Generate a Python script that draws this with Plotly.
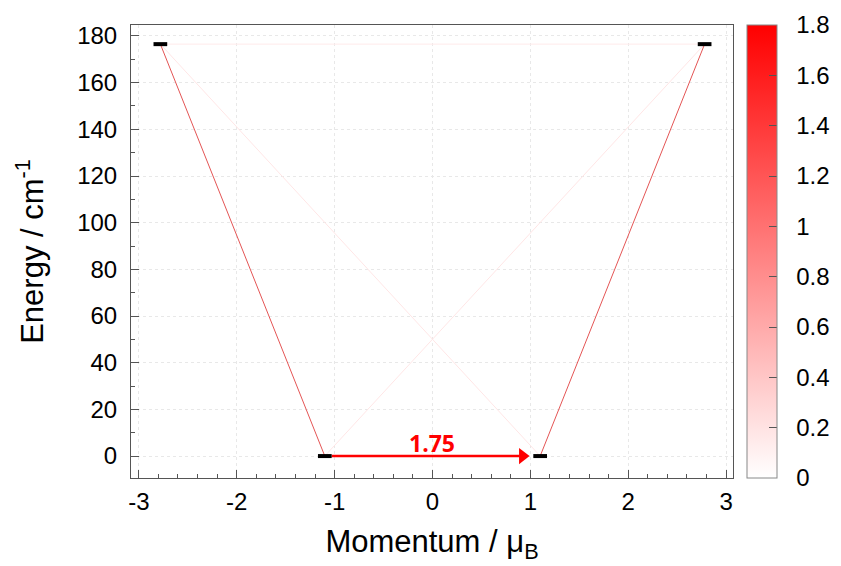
import plotly.graph_objects as go

# Data
level_x = [-2.78, -1.10, 1.10, 2.78]
level_y = [176.5, 0.0, 0.0, 176.5]
trans_from = [0, 2, 0, 1, 0, 1]
trans_to = [1, 3, 2, 3, 3, 2]
trans_strength = [0.85, 0.85, 0.18, 0.18, 0.15, 1.75]
x_ticks = [-3, -2, -1, 0, 1, 2, 3]
y_ticks = [0, 20, 40, 60, 80, 100, 120, 140, 160, 180]
cbar_ticks = [0, 0.2, 0.4, 0.6, 0.8, 1, 1.2, 1.4, 1.6, 1.8]
cmax = 1.8
bar_half = 0.07

def red_shade(s):
    f = max(0.0, min(1.0, s / cmax))
    g = int(round(255 * (1 - f)))
    return f"rgb(255,{g},{g})"

fig = go.Figure()

arrow_idx = trans_strength.index(max(trans_strength))
for k, (a, b, s) in enumerate(zip(trans_from, trans_to, trans_strength)):
    if k == arrow_idx:
        continue
    col = red_shade(s)
    if s > 0.5:
        col = "rgb(228,85,85)"
    fig.add_trace(go.Scatter(x=[level_x[a], level_x[b]], y=[level_y[a], level_y[b]],
                             mode="lines", line=dict(color=col, width=1),
                             hoverinfo="skip", showlegend=False))

# arrow for strongest transition
a, b = trans_from[arrow_idx], trans_to[arrow_idx]
x0 = level_x[a] + bar_half
x1 = level_x[b] - bar_half - 0.06
fig.add_trace(go.Scatter(x=[x0, x1 - 0.08], y=[level_y[a], level_y[b]], mode="lines",
                         line=dict(color="red", width=2.5), showlegend=False, hoverinfo="skip"))
fig.add_trace(go.Scatter(x=[x1 - 0.05], y=[level_y[b]], mode="markers",
                         marker=dict(symbol="triangle-right", size=14, color="red", line=dict(width=0)),
                         showlegend=False, hoverinfo="skip"))

for x, y in zip(level_x, level_y):
    fig.add_trace(go.Scatter(x=[x - bar_half, x + bar_half], y=[y, y], mode="lines",
                             line=dict(color="black", width=4), showlegend=False,
                             hoverinfo="skip"))

# colorbar
fig.add_trace(go.Scatter(x=[None], y=[None], mode="markers",
                         marker=dict(color=[0], cmin=0, cmax=cmax,
                                     colorscale=[[0, "white"], [1, "red"]],
                                     showscale=True,
                                     colorbar=dict(x=1.023, xanchor="left", y=0.5, yanchor="middle",
                                                   len=1, lenmode="fraction", thickness=30,
                                                   outlinecolor="#888", outlinewidth=1,
                                                   tickvals=cbar_ticks,
                                                   ticktext=["\u00a0\u00a0" + str(t) for t in cbar_ticks],
                                                   ticks="inside", ticklen=8,
                                                   tickcolor="#555",
                                                   tickfont=dict(family="Liberation Sans", size=24, color="black"),
                                                   xpad=0, ypad=0)),
                         showlegend=False, hoverinfo="skip"))

fig.add_annotation(x=(level_x[a] + level_x[b]) / 2, y=level_y[a], yshift=13, xref="x", yref="y",
                   text=f"<b>{trans_strength[arrow_idx]}</b>", showarrow=False,
                   font=dict(family="Open Sans", size=23, color="red"))

axis_common = dict(showline=True, linecolor="#555", linewidth=1, mirror=True,
                   ticks="inside", ticklen=8, tickcolor="#555",
                   showgrid=True, gridcolor="#e8e8e8", griddash="dot", gridwidth=1,
                   zeroline=False,
                   tickfont=dict(family="Liberation Sans", size=24, color="black"))

fig.update_xaxes(range=[-3.08, 3.07], tickvals=x_ticks, ticktext=[str(t) for t in x_ticks],
                 minor=dict(ticks="inside", dtick=0.2, tick0=0, ticklen=4, tickcolor="#555", showgrid=False),
                 ticklabelstandoff=2,
                 title=dict(text="Momentum / μ<sub>B</sub>", font=dict(family="Liberation Sans", size=31, color="black"), standoff=16),
                 **axis_common)
fig.update_yaxes(range=[-9.4, 184.7], tickvals=y_ticks, ticktext=[str(t) for t in y_ticks],
                 minor=dict(ticks="inside", dtick=10, tick0=0, ticklen=4, tickcolor="#555", showgrid=False),
                 ticklabelstandoff=8,
                 title=dict(text="Energy / cm<sup>-1</sup>", font=dict(family="Liberation Sans", size=31, color="black"), standoff=24),
                 **axis_common)

fig.update_layout(width=841, height=566, margin=dict(l=131, r=108, t=25, b=88, autoexpand=False),
                  plot_bgcolor="white", paper_bgcolor="white", showlegend=False)

fig.write_html("out.html")
